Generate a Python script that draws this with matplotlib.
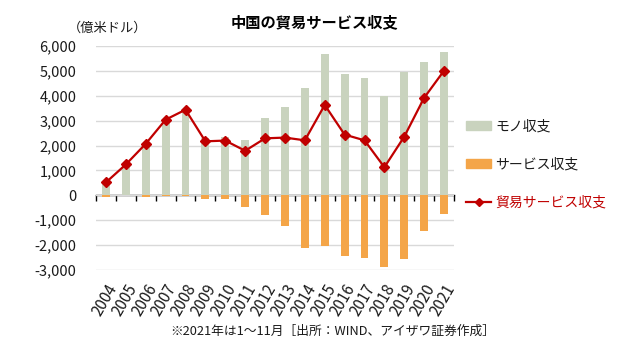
import matplotlib
matplotlib.use("Agg")
import matplotlib.pyplot as plt
from matplotlib.patches import Patch
from matplotlib.lines import Line2D
import numpy as np

plt.rcParams['font.family'] = ['Noto Sans CJK JP', 'DejaVu Sans']

years = ["2004", "2005", "2006", "2007", "2008", "2009", "2010", "2011", "2012",
         "2013", "2014", "2015", "2016", "2017", "2018", "2019", "2020", "2021"]
goods = [590, 1270, 2100, 3050, 3450, 2310, 2360, 2240, 3090,
         3560, 4320, 5690, 4880, 4720, 4000, 4950, 5360, 5760]
services = [-70, 0, -70, -10, -10, -160, -160, -470, -790,
            -1230, -2110, -2030, -2430, -2510, -2870, -2550, -1430, -750]
trade = [520, 1240, 2070, 3040, 3440, 2170, 2200, 1790, 2290,
         2320, 2210, 3630, 2440, 2210, 1130, 2360, 3920, 5010]
yticks = [-3000, -2000, -1000, 0, 1000, 2000, 3000, 4000, 5000, 6000]
ytick_labels = ["-3,000", "-2,000", "-1,000", "0", "1,000", "2,000", "3,000",
                "4,000", "5,000", "6,000"]

c_goods = "#C9D3BE"
c_serv = "#F4A548"
c_line = "#C00000"
txt = "#1a1a1a"

fig = plt.figure(figsize=(6.4, 3.49), dpi=100)
ax = fig.add_axes([96/640, 1 - 270/349, 358/640, 224/349])

x = np.arange(len(years))
ax.bar(x, goods, width=0.4, color=c_goods, zorder=2)
ax.bar(x, services, width=0.4, color=c_serv, zorder=2)
ax.plot(x, trade, color=c_line, lw=1.6, marker="D", markersize=5.5, zorder=4)

ax.set_xlim(-0.5, len(years) - 0.5)
ax.set_ylim(-3000, 6000)
ax.set_yticks(yticks)
ax.set_yticklabels(ytick_labels)
ax.yaxis.grid(True, color="#D9D9D9", lw=1)
ax.set_axisbelow(True)
for s in ax.spines.values():
    s.set_visible(False)
ax.tick_params(axis="y", length=0, pad=14, labelsize=10.5, labelcolor=txt)
ax.set_xticks(x)
ax.set_xticklabels(years, rotation=60, ha="right", rotation_mode="anchor")
ax.tick_params(axis="x", length=0, pad=8, labelsize=11, labelcolor=txt)

# zero axis line with category boundary ticks
sec = ax.secondary_xaxis(1/3)
sec.set_xticks(np.arange(len(years) + 1) - 0.5)
sec.set_xticklabels([])
sec.tick_params(axis="x", direction="out", length=4, width=1, color="black")
sec.spines["bottom"].set_color("black")
sec.spines["bottom"].set_linewidth(1)
sec.spines["top"].set_visible(False)

fig.text(314/640, 1 - 22/349, "中国の貿易サービス収支", ha="center", va="center",
         fontsize=11, fontweight="bold", color="black")
fig.text(68/640, 1 - 28/349, "（億米ドル）", ha="left", va="center",
         fontsize=9.5, color=txt)
fig.text(170/640, 1 - 331/349, "※2021年は1～11月［出所：WIND、アイザワ証券作成］",
         ha="left", va="center", fontsize=9.2, color=txt)

handles = [Patch(color=c_goods), Patch(color=c_serv),
           Line2D([], [], color=c_line, lw=1.6, marker="D", markersize=4.5)]
labels = ["モノ収支", "サービス収支", "貿易サービス収支"]
leg = fig.legend(handles, labels, loc="upper left",
                 bbox_to_anchor=(466/640, 1 - 119/349), frameon=False,
                 fontsize=10, labelspacing=1.75, handlelength=1.8,
                 handleheight=0.6, handletextpad=0.3, borderpad=0,
                 borderaxespad=0)
for t in leg.get_texts():
    t.set_color(txt)
leg.get_texts()[2].set_color(c_line)

fig.savefig("out.png", dpi=100)
